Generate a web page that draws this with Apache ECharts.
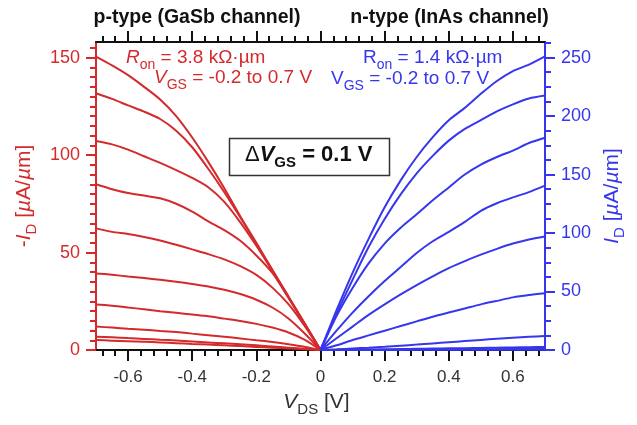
<!DOCTYPE html>
<html>
<head>
<meta charset="utf-8">
<script src="https://cdn.jsdelivr.net/npm/echarts@6/dist/echarts.min.js"></script>
<style>
  html, body { margin: 0; padding: 0; background: #fff; }
  #chart { width: 637px; height: 425px; }
</style>
</head>
<body>
<div id="chart"></div>
<script>
// Drain voltage sweeps (V)
const vdsP = [-0.7, -0.65, -0.6, -0.55, -0.5, -0.45, -0.4, -0.35, -0.3, -0.25, -0.2, -0.15, -0.1, -0.05, 0];
const vdsN = [0, 0.05, 0.1, 0.15, 0.2, 0.25, 0.3, 0.35, 0.4, 0.45, 0.5, 0.55, 0.6, 0.65, 0.7];

// p-type (GaSb channel): -I_D in uA/um, one array per gate step
const pId1  = [150.5, 146, 141, 135, 128.5, 120, 109, 96.5, 83, 68.5, 55, 41, 27.5, 13.7, 0];
const pId2  = [131.7, 128.8, 125.5, 122.3, 118.5, 112.5, 104, 93, 81, 68, 54.5, 41, 27.3, 13.7, 0];
const pId3  = [107.2, 105.5, 102.8, 99.4, 96, 92.3, 88.3, 83.5, 76, 65.5, 53.5, 40.5, 27, 13.6, 0];
const pId4  = [85, 82.5, 80.5, 79.2, 77.8, 75, 71, 66, 61.5, 56, 48.5, 39.5, 26.8, 13.5, 0];
const pId5  = [62.4, 60.6, 59.5, 58, 56.2, 54, 51.6, 49.2, 46.5, 43, 38.5, 32, 23.5, 12.5, 0];
const pId6  = [39.3, 38.6, 37.7, 36.9, 36, 35, 33.9, 32.6, 30.9, 28.7, 25.8, 21.8, 16.2, 8.6, 0];
const pId7  = [23.4, 22.7, 21.8, 20.9, 19.9, 19.1, 18.2, 17.3, 16.1, 14.9, 13.4, 11.5, 9, 5.3, 0];
const pId8  = [12, 11.5, 10.9, 10.4, 9.8, 9.2, 8.4, 7.6, 6.8, 5.9, 5, 4.1, 3, 1.7, 0];
const pId9  = [6.8, 6.5, 6.1, 5.7, 5.3, 4.9, 4.4, 3.9, 3.4, 2.9, 2.4, 1.8, 1.2, 0.6, 0];
const pId10 = [5.1, 4.8, 4.5, 4.2, 3.9, 3.5, 3.1, 2.8, 2.4, 2, 1.6, 1.2, 0.8, 0.4, 0];

// n-type (InAs channel): I_D in uA/um, one array per gate step
const nId1  = [0, 34, 66, 95, 122, 145, 165, 182, 196.5, 207, 219, 230, 238.5, 244, 251];
const nId2  = [0, 31, 60, 88, 112, 133, 151, 166, 179, 189, 196.5, 204, 210, 215, 217.5];
const nId3  = [0, 29, 53, 74, 91, 104.5, 116, 128, 139, 150, 158.5, 165, 170.5, 177, 181.5];
const nId4  = [0, 16.5, 32, 46, 59, 71, 83, 93, 101, 109.5, 119, 125.5, 130.5, 135, 140.5];
const nId5  = [0, 10, 20, 30, 39, 47.5, 55.5, 63, 70, 76, 81.5, 86.5, 91, 94.5, 97];
const nId6  = [0, 4, 8.5, 12.5, 16.5, 20.5, 24.5, 28.5, 32, 35.5, 39, 42, 45, 47, 48.5];
const nId7  = [0, 0.6, 1.3, 2, 2.8, 3.7, 4.6, 5.6, 6.6, 7.6, 8.6, 9.6, 10.5, 11.3, 12];
const nId8  = [0, 0.1, 0.3, 0.4, 0.6, 0.8, 1, 1.2, 1.4, 1.6, 1.8, 2, 2.2, 2.4, 2.6];
const nId9  = [0, 0.05, 0.1, 0.15, 0.2, 0.3, 0.35, 0.4, 0.5, 0.55, 0.6, 0.7, 0.8, 0.9, 1];
const nId10 = [0, 0.02, 0.04, 0.06, 0.08, 0.1, 0.12, 0.14, 0.16, 0.18, 0.2, 0.22, 0.25, 0.28, 0.3];

// Tick labels
const xTicks = [-0.6, -0.4, -0.2, 0, 0.2, 0.4, 0.6];
const yTicksP = [0, 50, 100, 150];
const yTicksN = [0, 50, 100, 150, 200, 250];

const pCurves = [pId1, pId2, pId3, pId4, pId5, pId6, pId7, pId8, pId9, pId10];
const nCurves = [nId1, nId2, nId3, nId4, nId5, nId6, nId7, nId8, nId9, nId10];

const RED = '#d42a2c';
const BLUE = '#3636ee';
const INK = '#111';
const FONT = '"Liberation Sans", Arial, sans-serif';

// minor tick positions
const xMinor = [];
for (let k = -17; k <= 17; k++) if (k % 5 !== 0) xMinor.push(+(k * 0.04).toFixed(2));
const yMinorP = [];
for (let v = 5; v <= 155; v += 5) if (v % 50 !== 0) yMinorP.push(v);
const yMinorN = [];
for (let k = 1; k <= 21; k++) if (k % 4 !== 0) yMinorN.push(k * 12.5);

// rich-text pieces: color for axis names, fill for graphic text
const sub = (size, color, extra) => Object.assign({
  fontSize: size, fontFamily: FONT, color, fill: color,
  padding: [10, 0, 0, 0], verticalAlign: 'top', lineHeight: 15
}, extra || {});
const txt = (size, color, extra) => Object.assign({
  fontSize: size, fontFamily: FONT, color, fill: color,
  verticalAlign: 'top', lineHeight: 24
}, extra || {});

function xAxisDef(position, ticks, len, withLine, withLabels) {
  return {
    type: 'value', min: -0.7, max: 0.7, position,
    axisLine: { show: withLine, onZero: false, lineStyle: { color: INK, width: 2 } },
    axisTick: { show: true, customValues: ticks, length: len, lineStyle: { color: INK, width: 2 } },
    axisLabel: withLabels ? {
      customValues: ticks, fontSize: 17, fontFamily: FONT, color: '#333', margin: 19,
      formatter: v => (Math.abs(v) < 1e-9 ? '0' : v.toFixed(1))
    } : { show: false },
    splitLine: { show: false }
  };
}
function yAxisDef(position, max, ticks, len, color, withLine, withLabels) {
  return {
    type: 'value', min: 0, max, position,
    axisLine: { show: withLine, onZero: false, lineStyle: { color, width: 2 } },
    axisTick: { show: true, customValues: ticks, length: len, lineStyle: { color, width: 2 } },
    axisLabel: withLabels ? { customValues: ticks, fontSize: 18, fontFamily: FONT, color, margin: 16 } : { show: false },
    splitLine: { show: false }
  };
}

const xMain = xAxisDef('bottom', xTicks, 11, true, true);
xMain.name = '{i|V}{s|DS}{n| [V]}';
xMain.nameLocation = 'middle';
xMain.nameGap = 42;
xMain.nameTextStyle = { padding: [0, 8, 0, 0], rich: { i: txt(21, '#333', { fontStyle: 'italic' }), s: sub(15, '#333'), n: txt(21, '#333') } };

const yLeft = yAxisDef('left', 158, yTicksP, 10, RED, true, true);
yLeft.name = '{n|-}{i|I}{s|D}{n| [}{g|\u00b5}{n|A/}{g|\u00b5}{n|m]}';
yLeft.nameLocation = 'middle';
yLeft.nameGap = 56;
yLeft.nameTextStyle = { rich: { i: txt(21, RED, { fontStyle: 'italic' }), g: txt(21, RED, { fontStyle: 'italic' }), s: sub(15, RED), n: txt(21, RED) } };

const yRight = yAxisDef('right', 263.33, yTicksN, 10, BLUE, true, true);
yRight.name = '{i|I}{s|D}{n| [}{g|\u00b5}{n|A/}{g|\u00b5}{n|m]}';
yRight.nameLocation = 'middle';
yRight.nameGap = 56;
yRight.nameTextStyle = { rich: { i: txt(21, BLUE, { fontStyle: 'italic' }), g: txt(21, BLUE, { fontStyle: 'italic' }), s: sub(15, BLUE), n: txt(21, BLUE) } };

const series = [];
pCurves.forEach((arr, i) => series.push({
  name: 'p' + (i + 1), type: 'line', xAxisIndex: 0, yAxisIndex: 0,
  data: vdsP.map((v, j) => [v, arr[j]]),
  showSymbol: false, smooth: 0.25, lineStyle: { color: RED, width: 2 }, z: 3
}));
nCurves.forEach((arr, i) => series.push({
  name: 'n' + (i + 1), type: 'line', xAxisIndex: 0, yAxisIndex: 2,
  data: vdsN.map((v, j) => [v, arr[j]]),
  showSymbol: false, smooth: 0.25, lineStyle: { color: BLUE, width: 2 }, z: 4
}));

const chart = echarts.init(document.getElementById('chart'), null, { renderer: 'canvas' });
chart.setOption({
  animation: false,
  backgroundColor: '#fff',
  grid: { left: 96, right: 92, top: 42, bottom: 75, containLabel: false },
  xAxis: [
    xMain,
    xAxisDef('bottom', xMinor, 6, false, false),
    xAxisDef('top', xTicks, 11, true, false),
    xAxisDef('top', xMinor, 6, false, false)
  ],
  yAxis: [
    yLeft,
    yAxisDef('left', 158, yMinorP, 6, RED, false, false),
    yRight,
    yAxisDef('right', 263.33, yMinorN, 6, BLUE, false, false)
  ],
  series,
  graphic: [
    { type: 'text', x: 197, y: 18, style: { text: 'p-type (GaSb channel)', font: 'bold 19.5px ' + FONT, fill: INK, align: 'center', verticalAlign: 'middle' } },
    { type: 'text', x: 449.5, y: 18, style: { text: 'n-type (InAs channel)', font: 'bold 19.5px ' + FONT, fill: INK, align: 'center', verticalAlign: 'middle' } },
    { type: 'text', x: 126, y: 48, z: 10, style: {
      text: '{i|R}{s|on}{n| = 3.8 k\u03a9\u00b7\u00b5m}', fill: RED,
      rich: { i: txt(19, RED, { fontStyle: 'italic' }), s: sub(14, RED), n: txt(19, RED) } } },
    { type: 'text', x: 154, y: 68, z: 10, style: {
      text: '{i|V}{s|GS}{n| = -0.2 to 0.7 V}', fill: RED,
      rich: { i: txt(19, RED, { fontStyle: 'italic' }), s: sub(14, RED), n: txt(19, RED) } } },
    { type: 'text', x: 363, y: 48, z: 10, style: {
      text: '{n|R}{s|on}{n| = 1.4 k\u03a9\u00b7\u00b5m}', fill: BLUE,
      rich: { s: sub(14, BLUE), n: txt(19, BLUE) } } },
    { type: 'text', x: 331, y: 69, z: 10, style: {
      text: '{n|V}{s|GS}{n| = -0.2 to 0.7 V}', fill: BLUE,
      rich: { s: sub(14, BLUE), n: txt(19, BLUE) } } },
    { type: 'rect', z: 10, shape: { x: 229.5, y: 138.5, width: 160, height: 37 }, style: { fill: '#fff', stroke: '#333', lineWidth: 1.5 } },
    { type: 'text', x: 245, y: 144, z: 11, style: {
      text: '{d|\u0394}{i|V}{s|GS}{n| = 0.1 V}', fill: INK,
      rich: {
        d: txt(22, INK),
        i: txt(22, INK, { fontStyle: 'italic', fontWeight: 'bold' }),
        s: sub(15, INK, { fontWeight: 'bold', padding: [11, 0, 0, 0] }),
        n: txt(22, INK, { fontWeight: 'bold' })
      } } }
  ]
});
</script>
</body>
</html>
